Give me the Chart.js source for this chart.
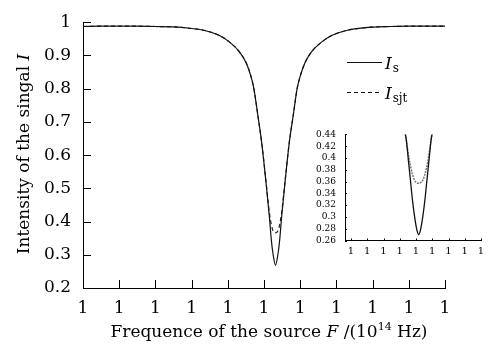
<!DOCTYPE html>
<html><head><meta charset="utf-8">
<script src="https://cdn.jsdelivr.net/npm/chart.js@4/dist/chart.umd.min.js"></script>
<style>
html,body{margin:0;padding:0;background:#fff;}
#wrap{position:relative;width:496px;height:351px;overflow:hidden;}
canvas{position:absolute;}
</style>
</head><body>
<div id="wrap">
<canvas id="main" width="496" height="351" style="left:0;top:0;width:496px;height:351px"></canvas>
<canvas id="inset" width="196" height="145" style="left:300px;top:120px;width:196px;height:145px"></canvas>
</div>
<script>
// ---- data (x in tick-step units; all tick labels read "1") ----
const freqPos = [0, 0.5, 1, 1.5, 2, 2.5, 3, 3.36, 3.77, 4.05, 4.32, 4.51, 4.65, 4.72, 4.83, 4.94, 5.056, 5.144, 5.205, 5.249, 5.318, 5.387, 5.431, 5.492, 5.58, 5.694, 5.808, 5.915, 5.988, 6.128, 6.312, 6.588, 6.868, 7.278, 7.968, 8.5, 9, 9.5, 10];
const intensityS = [0.987, 0.988, 0.988, 0.988, 0.987, 0.986, 0.981, 0.975, 0.96, 0.94, 0.911, 0.877, 0.833, 0.80, 0.72, 0.634, 0.517, 0.42, 0.342, 0.303, 0.268, 0.303, 0.342, 0.42, 0.517, 0.634, 0.72, 0.80, 0.833, 0.877, 0.911, 0.94, 0.96, 0.975, 0.985, 0.987, 0.988, 0.988, 0.988];
const intensitySjt = [0.987, 0.988, 0.988, 0.988, 0.987, 0.986, 0.981, 0.975, 0.96, 0.94, 0.911, 0.877, 0.833, 0.80, 0.72, 0.634, 0.52, 0.43, 0.39, 0.372, 0.366, 0.372, 0.39, 0.43, 0.52, 0.634, 0.72, 0.80, 0.833, 0.877, 0.911, 0.94, 0.96, 0.975, 0.985, 0.987, 0.988, 0.988, 0.988];
const xTicks = [0, 1, 2, 3, 4, 5, 6, 7, 8, 9, 10];
const xTickLabels = ['1', '1', '1', '1', '1', '1', '1', '1', '1', '1', '1'];
const yTicks = [0.2, 0.3, 0.4, 0.5, 0.6, 0.7, 0.8, 0.9, 1];
const yTickLabels = ['0.2', '0.3', '0.4', '0.5', '0.6', '0.7', '0.8', '0.9', '1'];

// inset (zoom of the dip)
const insetPos = [3.34, 3.395, 3.565, 3.685, 3.785, 3.915, 4.045, 4.165, 4.285, 4.415, 4.545, 4.645, 4.765, 4.935, 4.99];
const insetS = [0.441, 0.432, 0.387, 0.355, 0.328, 0.300, 0.279, 0.27, 0.279, 0.300, 0.328, 0.355, 0.387, 0.432, 0.441];
const insetSjt = [0.441, 0.432, 0.40, 0.383, 0.372, 0.362, 0.358, 0.357, 0.358, 0.362, 0.372, 0.383, 0.40, 0.432, 0.441];
const insetXTicks = [0, 1, 2, 3, 4, 5, 6, 7, 8];
const insetXTickLabels = ['1', '1', '1', '1', '1', '1', '1', '1', '1'];
const insetYTicks = [0.26, 0.28, 0.3, 0.32, 0.34, 0.36, 0.38, 0.4, 0.42, 0.44];
const insetYTickLabels = ['0.26', '0.28', '0.3', '0.32', '0.34', '0.36', '0.38', '0.4', '0.42', '0.44'];

const legendLabels = [{main: 'I', sub: 's'}, {main: 'I', sub: 'sjt'}];
const yTitle = 'Intensity of the singal ';
const yTitleVar = 'I';
const xTitle = 'Frequence of the source ';
const xTitleVar = 'F';
const xTitleUnit = ' /(10';
const xTitleSup = '14';
const xTitleEnd = ' Hz)';

const SERIF = "'DejaVu Serif', serif";
Chart.defaults.font.family = SERIF;
Chart.defaults.color = '#000';

const pts = (xs, ys) => xs.map((x, i) => ({x: x, y: ys[i]}));

const inwardTicks = {
  id: 'inwardTicks',
  afterDatasetsDraw(chart, args, opts) {
    const {ctx, chartArea: a, scales} = chart;
    const x = scales.x, y = scales.y;
    ctx.save();
    ctx.strokeStyle = '#000';
    ctx.lineWidth = 1;
    x.ticks.forEach(t => {
      const px = Math.round(x.getPixelForValue(t.value)) + 0.5;
      ctx.beginPath(); ctx.moveTo(px, a.bottom); ctx.lineTo(px, a.bottom - opts.len); ctx.stroke();
    });
    y.ticks.forEach(t => {
      const py = Math.round(y.getPixelForValue(t.value)) + 0.5;
      ctx.beginPath(); ctx.moveTo(a.left, py); ctx.lineTo(a.left + opts.len, py); ctx.stroke();
    });
    ctx.restore();
  }
};

function runsWidth(ctx, runs) {
  let w = 0;
  runs.forEach(r => { ctx.font = r.font; w += ctx.measureText(r.text).width; });
  return w;
}
function drawRuns(ctx, runs, cx, y) {
  let x = cx - runsWidth(ctx, runs) / 2;
  ctx.textAlign = 'left';
  ctx.textBaseline = 'alphabetic';
  runs.forEach(r => {
    ctx.font = r.font;
    ctx.fillText(r.text, x, y + (r.dy || 0));
    x += ctx.measureText(r.text).width;
  });
}

const annotations = {
  id: 'annotations',
  afterDraw(chart) {
    const {ctx} = chart;
    ctx.save();
    ctx.fillStyle = '#000';
    // x title
    drawRuns(ctx, [
      {text: xTitle, font: '17px ' + SERIF},
      {text: xTitleVar, font: 'italic 17px ' + SERIF},
      {text: xTitleUnit, font: '17px ' + SERIF},
      {text: xTitleSup, font: '11px ' + SERIF, dy: -7},
      {text: xTitleEnd, font: '17px ' + SERIF}
    ], 269, 337);
    // y title
    ctx.save();
    ctx.translate(28.5, 154);
    ctx.rotate(-Math.PI / 2);
    drawRuns(ctx, [
      {text: yTitle, font: '17px ' + SERIF},
      {text: yTitleVar, font: 'italic 17px ' + SERIF}
    ], 0, 0);
    ctx.restore();
    // legend
    const ly = [62.5, 92.5];
    ctx.strokeStyle = '#111';
    ctx.lineWidth = 1.2;
    legendLabels.forEach((l, i) => {
      ctx.setLineDash(i === 0 ? [] : [4, 3]);
      ctx.beginPath(); ctx.moveTo(347, ly[i]); ctx.lineTo(382, ly[i]); ctx.stroke();
      ctx.setLineDash([]);
      ctx.textAlign = 'left'; ctx.textBaseline = 'alphabetic';
      ctx.font = 'italic 17px ' + SERIF;
      ctx.fillText(l.main, 385, ly[i] + 6.5);
      const w = ctx.measureText(l.main).width;
      ctx.font = '12px ' + SERIF;
      ctx.fillText(l.sub, 385 + w + 1, ly[i] + 9.5);
    });
    ctx.restore();
  }
};

new Chart(document.getElementById('main'), {
  type: 'line',
  data: {
    datasets: [
      {label: 'Is', data: pts(freqPos, intensityS), borderColor: '#111', borderWidth: 1.2, pointRadius: 0, cubicInterpolationMode: 'monotone', fill: false},
      {label: 'Isjt', data: pts(freqPos, intensitySjt), borderColor: '#222', borderWidth: 1.2, borderDash: [4, 3], pointRadius: 0, cubicInterpolationMode: 'monotone', fill: false}
    ]
  },
  options: {
    responsive: false, animation: false, devicePixelRatio: 1,
    layout: {padding: {top: 15, right: 51, left: 0, bottom: 0}},
    plugins: {legend: {display: false}, tooltip: {enabled: false}, inwardTicks: {len: 8}},
    scales: {
      x: {
        type: 'linear', min: 0, max: 10,
        afterBuildTicks: s => { s.ticks = xTicks.map(v => ({value: v})); },
        afterFit: s => { s.height = 63; },
        grid: {display: false, drawTicks: false},
        border: {display: true, color: '#000', width: 1},
        ticks: {font: {size: 17}, color: '#000', padding: 10, maxRotation: 0, autoSkip: false,
          callback: (v, i) => xTickLabels[i]}
      },
      y: {
        type: 'linear', min: 0.2, max: 1,
        afterBuildTicks: s => { s.ticks = yTicks.map(v => ({value: v})); },
        afterFit: s => { s.width = 83; },
        grid: {display: false, drawTicks: false},
        border: {display: true, color: '#000', width: 1},
        ticks: {font: {size: 17}, color: '#000', padding: 12, autoSkip: false,
          callback: (v, i) => yTickLabels[i]}
      }
    }
  },
  plugins: [inwardTicks, annotations]
});

new Chart(document.getElementById('inset'), {
  type: 'line',
  data: {
    datasets: [
      {label: 'Is', data: pts(insetPos, insetS), borderColor: '#111', borderWidth: 1.3, pointRadius: 0, cubicInterpolationMode: 'monotone', fill: false},
      {label: 'Isjt', data: pts(insetPos, insetSjt), borderColor: '#777', borderWidth: 1.5, borderDash: [2, 1], pointRadius: 0, cubicInterpolationMode: 'monotone', fill: false}
    ]
  },
  options: {
    responsive: false, animation: false, devicePixelRatio: 1,
    layout: {padding: {top: 11, right: 15, left: 0, bottom: 0}},
    plugins: {legend: {display: false}, tooltip: {enabled: false}, inwardTicks: {len: 2}},
    scales: {
      x: {
        type: 'linear', min: -0.37, max: 8,
        afterBuildTicks: s => { s.ticks = insetXTicks.map(v => ({value: v})); },
        afterFit: s => { s.height = 24.5; },
        grid: {display: false, drawTicks: false},
        border: {display: true, color: '#000', width: 1},
        ticks: {font: {size: 10}, color: '#000', padding: 5, maxRotation: 0, autoSkip: false,
          callback: (v, i) => insetXTickLabels[i]}
      },
      y: {
        type: 'linear', min: 0.26, max: 0.44,
        afterBuildTicks: s => { s.ticks = insetYTicks.map(v => ({value: v})); },
        afterFit: s => { s.width = 45; },
        grid: {display: false, drawTicks: false},
        border: {display: true, color: '#000', width: 1},
        ticks: {font: {size: 9}, color: '#000', padding: 9, autoSkip: false,
          callback: (v, i) => insetYTickLabels[i]}
      }
    }
  },
  plugins: [inwardTicks]
});
</script>
</body></html>
